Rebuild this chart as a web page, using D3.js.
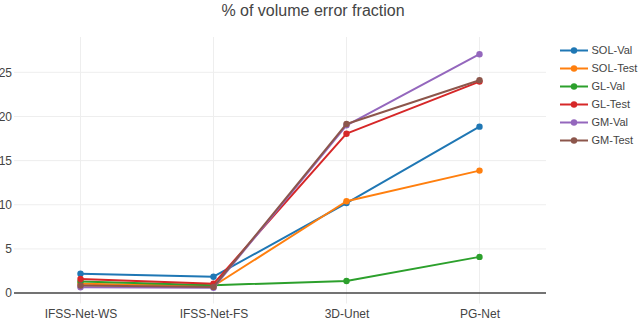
<!DOCTYPE html>
<html>
<head>
<meta charset="utf-8">
<script src="https://cdn.jsdelivr.net/npm/d3@7"></script>
<style>
  html, body { margin: 0; padding: 0; background: #fff; }
  svg { display: block; }
  text { font-family: "Liberation Sans", Arial, sans-serif; fill: #444; }
</style>
</head>
<body>
<svg id="chart" width="640" height="321"></svg>
<script>
const title = "% of volume error fraction";
const categories = ["IFSS-Net-WS", "IFSS-Net-FS", "3D-Unet", "PG-Net"];
const seriesNames = ["SOL-Val", "SOL-Test", "GL-Val", "GL-Test", "GM-Val", "GM-Test"];
const solVal  = [2.2, 1.85, 10.2, 18.85];
const solTest = [1.05, 0.8, 10.4, 13.87];
const glVal   = [1.3, 0.9, 1.36, 4.1];
const glTest  = [1.6, 1.05, 18.05, 23.95];
const gmVal   = [0.65, 0.6, 19.0, 27.05];
const gmTest  = [0.85, 0.7, 19.15, 24.1];
const colors = ["#1f77b4", "#ff7f0e", "#2ca02c", "#d62728", "#9467bd", "#8c564b"];
const yTicks = [0, 5, 10, 15, 20, 25];

const seriesValues = [solVal, solTest, glVal, glTest, gmVal, gmTest];
const series = seriesNames.map((name, i) => ({ name, values: seriesValues[i], color: colors[i] }));

const svg = d3.select("#chart");
const plot = { left: 14, right: 546, top: 37, bottom: 303.5 };

const x = d3.scalePoint().domain(categories).range([plot.left, plot.right]).padding(0.5);
const y = d3.scaleLinear().domain([-1.18, 29.0]).range([plot.bottom, plot.top]);

// Title
svg.append("text")
  .attr("x", 313).attr("y", 16)
  .attr("text-anchor", "middle")
  .style("font-size", "16px")
  .text(title);

// Grid: vertical
svg.append("g").selectAll("line").data(categories).join("line")
  .attr("x1", d => x(d)).attr("x2", d => x(d))
  .attr("y1", plot.top).attr("y2", plot.bottom)
  .attr("stroke", "#eee").attr("stroke-width", 1);

// Grid: horizontal
svg.append("g").selectAll("line").data(yTicks.filter(t => t !== 0)).join("line")
  .attr("x1", plot.left).attr("x2", plot.right)
  .attr("y1", d => y(d)).attr("y2", d => y(d))
  .attr("stroke", "#eee").attr("stroke-width", 1);

// Zero line
svg.append("line")
  .attr("x1", plot.left).attr("x2", plot.right)
  .attr("y1", y(0)).attr("y2", y(0))
  .attr("stroke", "#444").attr("stroke-width", 1.5);

// Y axis labels
const yAxis = d3.axisLeft(y).tickValues(yTicks).tickSize(0).tickPadding(2);
const yg = svg.append("g").attr("transform", `translate(${plot.left},0)`).call(yAxis);
yg.select(".domain").remove();
yg.selectAll("text").style("font-size", "12px").style("font-family", "Liberation Sans, Arial, sans-serif").attr("fill", "#444");

// X axis labels
const xAxis = d3.axisBottom(x).tickSize(0).tickPadding(6);
const xg = svg.append("g").attr("transform", `translate(0,${plot.bottom})`).call(xAxis);
xg.select(".domain").remove();
xg.selectAll("text").style("font-size", "12px").style("font-family", "Liberation Sans, Arial, sans-serif").attr("fill", "#444");

// Lines
const line = d3.line().x((d, i) => x(categories[i])).y(d => y(d));
const sg = svg.append("g").selectAll("g").data(series).join("g");
sg.append("path")
  .attr("d", d => line(d.values))
  .attr("fill", "none")
  .attr("stroke", d => d.color)
  .attr("stroke-width", 2)
  .attr("stroke-linejoin", "round");
sg.selectAll("circle").data(d => d.values.map((v, i) => ({ v, i, color: d.color }))).join("circle")
  .attr("cx", d => x(categories[d.i]))
  .attr("cy", d => y(d.v))
  .attr("r", 3.2)
  .attr("fill", d => d.color);

// Legend
const lg = svg.append("g").selectAll("g").data(series).join("g")
  .attr("transform", (d, i) => `translate(560,${50.5 + i * 18})`);
lg.append("line").attr("x1", 0).attr("x2", 28).attr("y1", 0).attr("y2", 0)
  .attr("stroke", d => d.color).attr("stroke-width", 2);
lg.append("circle").attr("cx", 14).attr("cy", 0).attr("r", 3.2).attr("fill", d => d.color);
lg.append("text").attr("x", 31.5).attr("y", 0).attr("dy", "0.35em")
  .style("font-size", "11px").text(d => d.name);
</script>
</body>
</html>
